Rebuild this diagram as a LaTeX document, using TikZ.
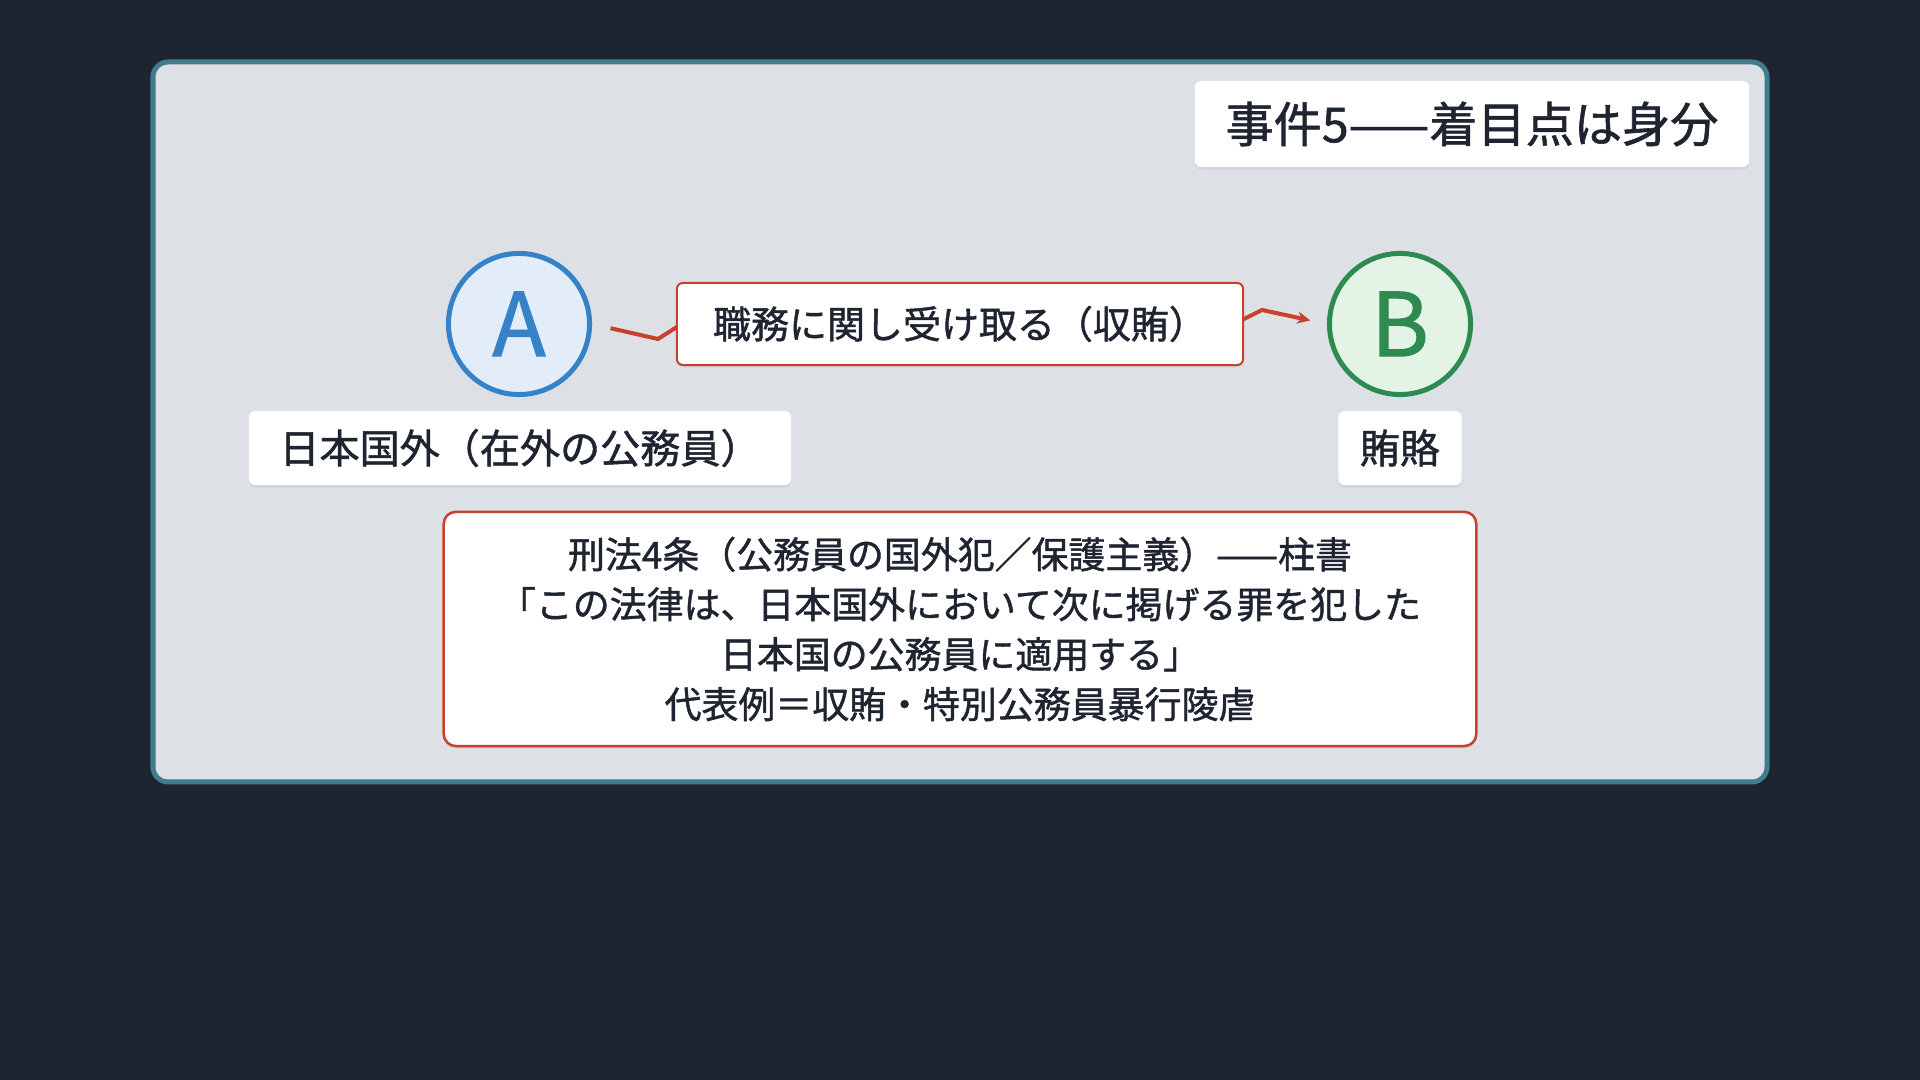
\documentclass[tikz,border=0pt]{standalone}
\usepackage{fontspec}
\setmainfont{Noto Sans CJK JP}[FakeBold=1.2]
\usetikzlibrary{arrows.meta,shadows}
\definecolor{pagebg}{HTML}{1E2430}
\definecolor{framefill}{HTML}{DDE0E5}
\definecolor{frameline}{HTML}{3F7D8C}
\definecolor{ink}{HTML}{1E2430}
\definecolor{linkred}{HTML}{C8402E}
\definecolor{ablue}{HTML}{3582C8}
\definecolor{afill}{HTML}{E3EDF9}
\definecolor{bgreen}{HTML}{2E8B50}
\definecolor{bfill}{HTML}{E3F4E7}
\tikzset{
  person/.style={circle, line width=0.05cm, minimum size=1.41cm, inner sep=0pt,
    font=\fontsize{25}{25}\selectfont},
  tag/.style={fill=white, rounded corners=0.06cm, align=center, text=ink, inner sep=0pt,
    drop shadow={shadow xshift=0pt, shadow yshift=-0.025cm, opacity=0.12}},
  link/.style={draw=linkred, line width=0.04cm},
}

\begin{document}
\begin{tikzpicture}[x=0.01cm, y=-0.01cm]
\fill[pagebg] (0,0) rectangle (1920,1080);
\useasboundingbox (0,0) rectangle (1920,1080);
\draw[draw=frameline, fill=framefill, line width=0.05cm, rounded corners=0.15cm]
  (153,62) rectangle (1767,782);

\node[tag, minimum width=5.54cm, minimum height=0.86cm, font=\fontsize{13.7}{16}\selectfont]
  (title) at (1472,124) {事件5——着目点は身分};

\node[person, draw=ablue, fill=afill, text=ablue] (A) at (519,324) {A};
\node[person, draw=bgreen, fill=bfill, text=bgreen] (B) at (1400,324) {B};

\coordinate (k1) at (658,339);
\coordinate (k2) at (1262,310);
\draw[link, shorten <=0.19cm] (A.east) -- (k1) -- (680,325);
\draw[link, -{Stealth[length=0.13cm, width=0.12cm]}, shorten >=0.17cm] (1240,321) -- (k2) -- (B.west);

\node[tag, draw=linkred, line width=0.02cm, minimum width=5.66cm, minimum height=0.82cm,
  font=\fontsize{10.8}{13}\selectfont] (act) at (960,324) {職務に関し受け取る（収賄）};

\node[tag, minimum width=5.42cm, minimum height=0.74cm, font=\fontsize{11.4}{14}\selectfont]
  (place) at (520,448) {日本国外（在外の公務員）};
\node[tag, minimum width=1.23cm, minimum height=0.74cm, font=\fontsize{11.4}{14}\selectfont]
  (thing) at (1400,448) {賄賂};

\node[tag, draw=linkred, line width=0.025cm, rounded corners=0.12cm, minimum width=10.32cm,
  minimum height=2.34cm, font=\fontsize{10.5}{14.2}\selectfont] (law) at (960,629)
  {刑法4条（公務員の国外犯／保護主義）——柱書\\
   「この法律は、日本国外において次に掲げる罪を犯した\\
   日本国の公務員に適用する」\\
   代表例＝収賄・特別公務員暴行陵虐};
\end{tikzpicture}
\end{document}
